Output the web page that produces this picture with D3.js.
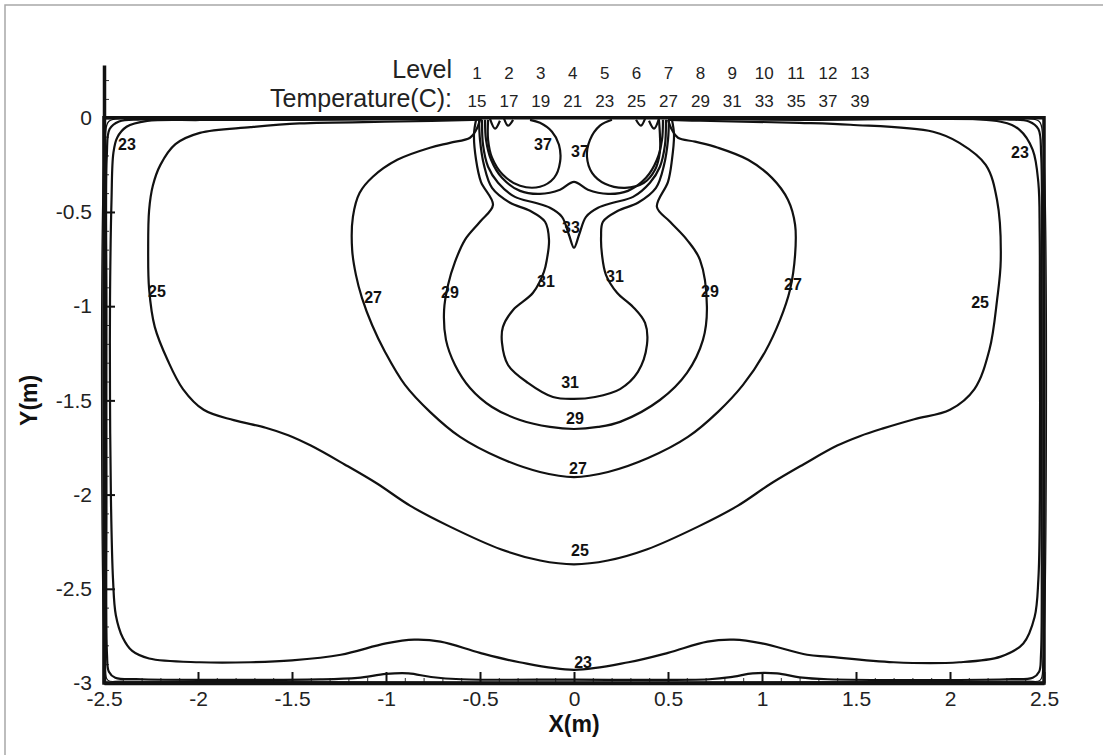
<!DOCTYPE html>
<html>
<head>
<meta charset="utf-8">
<script src="https://cdn.jsdelivr.net/npm/d3@7"></script>
<style>
    body { margin: 0; background: #fff; }
    svg { display: block; font-family: "Liberation Sans", Arial, sans-serif; }
</style>
</head>
<body>
<svg id="chart"></svg>
<script>
// legend table
const levels = [1, 2, 3, 4, 5, 6, 7, 8, 9, 10, 11, 12, 13];
const temps = [15, 17, 19, 21, 23, 25, 27, 29, 31, 33, 35, 37, 39];

// axis ticks (m)
const xTicks = [-2.5, -2, -1.5, -1, -0.5, 0, 0.5, 1, 1.5, 2, 2.5];
const yTicks = [-3, -2.5, -2, -1.5, -1, -0.5, 0];

// isotherms, [x, y] in metres
const c19 = [[-0.5, -0.003], [-2.4, -0.004], [-2.475, -0.02], [-2.493, -0.1], [-2.494, -2.9], [-2.48, -2.985], [-2.4, -2.99],
    [2.4, -2.99], [2.48, -2.985], [2.494, -2.9], [2.493, -0.1], [2.475, -0.02], [2.4, -0.004], [0.5, -0.003]];

const c21 = [[-0.52, -0.006], [-1.5, -0.007], [-2.3, -0.009], [-2.42, -0.02], [-2.47, -0.06], [-2.485, -0.2],
    [-2.487, -1.0], [-2.487, -2.0], [-2.484, -2.85], [-2.474, -2.94], [-2.44, -2.972], [-2.3, -2.98],
    [-1.35, -2.981], [-1.15, -2.973], [-1.0, -2.952], [-0.88, -2.949], [-0.76, -2.968], [-0.6, -2.98],
    [0, -2.982], [0.72, -2.98], [0.85, -2.966], [0.95, -2.949], [1.08, -2.949], [1.2, -2.97], [1.35, -2.98],
    [2.3, -2.98], [2.44, -2.972], [2.474, -2.94], [2.484, -2.85], [2.487, -2.0], [2.487, -1.0], [2.485, -0.2],
    [2.47, -0.06], [2.42, -0.02], [2.3, -0.009], [1.5, -0.007], [0.52, -0.006]];

const c23 = [[-0.5, -0.006], [-1.46, -0.011], [-1.99, -0.012], [-2.27, -0.017], [-2.38, -0.048], [-2.43, -0.106],
    [-2.45, -0.186], [-2.46, -0.435], [-2.468, -0.967], [-2.468, -1.5], [-2.463, -2.03], [-2.452, -2.45],
    [-2.437, -2.64], [-2.40, -2.76], [-2.35, -2.83], [-2.26, -2.87], [-1.99, -2.89], [-1.72, -2.89],
    [-1.50, -2.88], [-1.24, -2.85], [-1.0, -2.79], [-0.85, -2.77], [-0.71, -2.78], [-0.50, -2.84],
    [-0.29, -2.89], [0, -2.93], [0.29, -2.89], [0.50, -2.84], [0.71, -2.78], [0.85, -2.77], [1.0, -2.79],
    [1.24, -2.85], [1.35, -2.86], [1.70, -2.89], [2.05, -2.89], [2.27, -2.86], [2.39, -2.79], [2.45, -2.65],
    [2.47, -2.45], [2.478, -2.03], [2.478, -0.97], [2.477, -0.61], [2.47, -0.345], [2.44, -0.17],
    [2.37, -0.064], [2.27, -0.021], [1.2, -0.011], [0.5, -0.006]];

const c25 = [[-0.49, -0.01], [-0.93, -0.02], [-1.46, -0.03], [-1.72, -0.05], [-1.99, -0.08], [-2.12, -0.14],
    [-2.20, -0.25], [-2.24, -0.36], [-2.26, -0.49], [-2.265, -0.70], [-2.26, -0.91], [-2.23, -1.11],
    [-2.16, -1.29], [-2.08, -1.44], [-1.97, -1.55], [-1.81, -1.605], [-1.64, -1.645], [-1.52, -1.685],
    [-1.40, -1.74], [-1.22, -1.84], [-1.05, -1.94], [-0.87, -2.06], [-0.66, -2.17], [-0.39, -2.29],
    [-0.18, -2.35], [0, -2.37], [0.18, -2.35], [0.39, -2.29], [0.66, -2.17], [0.87, -2.06], [1.05, -1.94],
    [1.22, -1.84], [1.40, -1.74], [1.52, -1.69], [1.64, -1.65], [1.81, -1.60], [2.0, -1.55], [2.13, -1.44],
    [2.21, -1.23], [2.25, -0.97], [2.27, -0.754], [2.25, -0.435], [2.19, -0.25], [2.05, -0.133],
    [1.91, -0.074], [1.47, -0.037], [1.20, -0.027], [0.67, -0.016], [0.51, -0.011]];

const c27 = [[-0.50, -0.011], [-0.52, -0.064], [-0.553, -0.106], [-0.66, -0.133], [-0.766, -0.159],
    [-0.94, -0.223], [-1.07, -0.313], [-1.14, -0.398], [-1.176, -0.526], [-1.18, -0.701], [-1.16, -0.834],
    [-1.128, -0.956], [-1.074, -1.10], [-1.005, -1.243], [-0.899, -1.418], [-0.766, -1.561],
    [-0.606, -1.694], [-0.394, -1.806], [-0.181, -1.88], [0, -1.907], [0.181, -1.88], [0.394, -1.806],
    [0.606, -1.694], [0.766, -1.561], [0.899, -1.418], [1.016, -1.243], [1.096, -1.073], [1.149, -0.913],
    [1.176, -0.728], [1.176, -0.568], [1.138, -0.435], [1.053, -0.319], [0.926, -0.223], [0.766, -0.159],
    [0.644, -0.127], [0.553, -0.106], [0.521, -0.064], [0.50, -0.011]];

const c29 = [[-0.521, -0.011], [-0.532, -0.09], [-0.521, -0.223], [-0.495, -0.34], [-0.431, -0.462],
    [-0.50, -0.552], [-0.58, -0.648], [-0.633, -0.765], [-0.67, -0.887], [-0.691, -1.02], [-0.681, -1.179],
    [-0.633, -1.312], [-0.553, -1.434], [-0.436, -1.535], [-0.287, -1.604], [-0.128, -1.641], [0, -1.652],
    [0.128, -1.641], [0.245, -1.614], [0.457, -1.498], [0.601, -1.354], [0.686, -1.179], [0.707, -1.004],
    [0.67, -0.754], [0.601, -0.648], [0.511, -0.552], [0.441, -0.473], [0.50, -0.34], [0.521, -0.223],
    [0.532, -0.09], [0.521, -0.011]];

const c31 = [[-0.505, -0.011], [-0.50, -0.117], [-0.479, -0.25], [-0.436, -0.372], [-0.34, -0.451],
    [-0.234, -0.494], [-0.154, -0.552], [-0.133, -0.648], [-0.144, -0.75], [-0.16, -0.818], [-0.218, -0.929],
    [-0.324, -1.02], [-0.378, -1.11], [-0.383, -1.195], [-0.351, -1.312], [-0.245, -1.407], [-0.112, -1.482],
    [0, -1.492], [0.112, -1.482], [0.245, -1.44], [0.34, -1.349], [0.388, -1.206], [0.378, -1.089],
    [0.314, -1.004], [0.229, -0.929], [0.17, -0.834], [0.149, -0.728], [0.144, -0.632], [0.154, -0.552],
    [0.234, -0.494], [0.34, -0.451], [0.436, -0.372], [0.479, -0.25], [0.50, -0.117], [0.505, -0.011]];

const c33 = [[-0.489, -0.011], [-0.484, -0.143], [-0.457, -0.26], [-0.404, -0.345], [-0.314, -0.42],
    [-0.207, -0.451], [-0.128, -0.478], [-0.064, -0.526], [-0.027, -0.621], [0, -0.69], [0.027, -0.621],
    [0.064, -0.526], [0.128, -0.478], [0.207, -0.451], [0.314, -0.42], [0.404, -0.345], [0.457, -0.26],
    [0.484, -0.143], [0.489, -0.011]];

const c35 = [[-0.473, -0.011], [-0.468, -0.117], [-0.441, -0.223], [-0.383, -0.319], [-0.287, -0.388],
    [-0.181, -0.404], [-0.074, -0.382], [0, -0.34], [0.074, -0.382], [0.181, -0.404], [0.287, -0.388],
    [0.383, -0.319], [0.441, -0.223], [0.468, -0.117], [0.473, -0.011]];

const c37a = [[-0.457, -0.011], [-0.457, -0.117], [-0.436, -0.212], [-0.378, -0.303], [-0.287, -0.361],
    [-0.181, -0.366], [-0.106, -0.319], [-0.074, -0.234], [-0.08, -0.143], [-0.117, -0.074],
    [-0.181, -0.027], [-0.234, -0.011]];
const c37b = [[0.202, -0.011], [0.138, -0.042], [0.085, -0.117], [0.069, -0.207], [0.096, -0.292],
    [0.165, -0.35], [0.271, -0.372], [0.372, -0.345], [0.431, -0.276], [0.457, -0.181], [0.457, -0.09],
    [0.452, -0.011]];

const c39a = [[-0.447, -0.005], [-0.42, -0.058], [-0.394, -0.016]];
const c39b = [[-0.372, -0.005], [-0.351, -0.042], [-0.324, -0.011]];
const c39c = [[0.33, -0.011], [0.356, -0.042], [0.378, -0.005]];
const c39d = [[0.399, -0.016], [0.426, -0.058], [0.452, -0.005]];

// contour labels [x, y, temperature]
const labelPts = [[-2.378, -0.143, 23], [2.372, -0.186, 23], [0.048, -2.889, 23],
    [-2.218, -0.919, 25], [2.160, -0.982, 25], [0.032, -2.294, 25],
    [-1.069, -0.956, 27], [1.165, -0.887, 27], [0.021, -1.859, 27],
    [-0.660, -0.929, 29], [0.723, -0.919, 29], [0.005, -1.593, 29],
    [-0.149, -0.871, 31], [0.218, -0.844, 31], [-0.021, -1.407, 31],
    [-0.016, -0.584, 33],
    [-0.165, -0.143, 37], [0.032, -0.181, 37]];

const contours = [
    { level: 19, pts: c19 }, { level: 21, pts: c21 }, { level: 23, pts: c23 }, { level: 25, pts: c25 },
    { level: 27, pts: c27 }, { level: 29, pts: c29 }, { level: 31, pts: c31 }, { level: 33, pts: c33 },
    { level: 35, pts: c35 }, { level: 37, pts: c37a }, { level: 37, pts: c37b },
    { level: 39, pts: c39a }, { level: 39, pts: c39b }, { level: 39, pts: c39c }, { level: 39, pts: c39d }
];

const width = 1103, height = 755;
const margin = { top: 65, right: 59, bottom: 72, left: 104 };

const svg = d3.select('#chart')
    .attr('width', width)
    .attr('height', height);

// grey frame of the exported picture
svg.append('path')
    .attr('d', `M5,${height}V5H${width}`)
    .attr('fill', 'none')
    .attr('stroke', '#a8a8a8')
    .attr('stroke-width', 1.5);

const xscale = d3.scaleLinear()
    .domain([-2.5, 2.5])
    .range([margin.left, width - margin.right]);

const yscale = d3.scaleLinear()
    .domain([-3, 0.28])
    .range([height - margin.bottom, margin.top]);

const fmt = d => String(d);

// minor ticks
const xMinor = d3.range(-25, 26).map(d => d / 10).filter(d => !xTicks.includes(d));
const yMinor = d3.range(-30, 3).map(d => d / 10).filter(d => !yTicks.includes(d));

const chart = svg.append('g');

const xaxis_minor = chart.append('g')
    .attr('transform', `translate(0, ${yscale(-3)})`)
    .call(d3.axisBottom(xscale).tickValues(xMinor).tickSize(-5).tickFormat(''));
xaxis_minor.select('.domain').remove();

const yaxis_minor = chart.append('g')
    .attr('transform', `translate(${xscale(-2.5)}, 0)`)
    .call(d3.axisLeft(yscale).tickValues(yMinor).tickSize(-5).tickFormat(''));
yaxis_minor.select('.domain').remove();

chart.selectAll('.tick line').attr('stroke', '#333').attr('stroke-width', 1);

// isotherms
const line = d3.line()
    .x(d => xscale(d[0]))
    .y(d => yscale(d[1]))
    .curve(d3.curveCatmullRom.alpha(0.5));

chart.append('g')
    .selectAll('path')
    .data(contours)
    .join('path')
    .attr('d', d => line(d.pts))
    .attr('fill', 'none')
    .attr('stroke', '#111')
    .attr('stroke-width', d => d.level < 21 ? 1.2 : 2.2)
    .attr('stroke-linejoin', 'round');

// domain walls
chart.append('rect')
    .attr('x', xscale(-2.5))
    .attr('y', yscale(0))
    .attr('width', xscale(2.5) - xscale(-2.5))
    .attr('height', yscale(-3) - yscale(0))
    .attr('fill', 'none')
    .attr('stroke', '#111')
    .attr('stroke-width', 3.5);

const xaxis = d3.axisBottom(xscale)
    .tickValues(xTicks)
    .tickSize(-11)
    .tickSizeOuter(0)
    .tickPadding(8)
    .tickFormat(fmt);

const yaxis = d3.axisLeft(yscale)
    .tickValues(yTicks)
    .tickSize(-11)
    .tickSizeOuter(0)
    .tickPadding(12)
    .tickFormat(fmt);

const xaxis_group = chart.append('g')
    .attr('transform', `translate(0, ${yscale(-3)})`)
    .call(xaxis);

const yaxis_group = chart.append('g')
    .attr('transform', `translate(${xscale(-2.5)}, 0)`)
    .call(yaxis);

[xaxis_group, yaxis_group].forEach(g => {
    g.select('.domain').attr('stroke', '#111').attr('stroke-width', 3.5);
    g.selectAll('.tick line').attr('stroke', '#111').attr('stroke-width', 2);
    g.selectAll('.tick text')
        .attr('fill', '#222')
        .style('font-size', '21px')
        .style('font-family', '"Liberation Sans", Arial, sans-serif');
});

// contour labels
chart.append('g')
    .selectAll('text')
    .data(labelPts)
    .join('text')
    .attr('x', d => xscale(d[0]))
    .attr('y', d => yscale(d[1]))
    .attr('dy', '0.35em')
    .attr('text-anchor', 'middle')
    .style('font-size', '16px')
    .style('font-weight', 'bold')
    .attr('fill', '#111')
    .text(d => d[2]);

// axis titles
svg.append('text')
    .attr('x', xscale(0))
    .attr('y', 732)
    .attr('text-anchor', 'middle')
    .style('font-size', '23px')
    .style('font-weight', 'bold')
    .attr('fill', '#111')
    .text('X(m)');

svg.append('text')
    .attr('transform', `translate(37, ${yscale(-1.5)}) rotate(-90)`)
    .attr('text-anchor', 'middle')
    .style('font-size', '23px')
    .style('font-weight', 'bold')
    .attr('fill', '#111')
    .text('Y(m)');

// level legend
const legend = svg.append('g');
const colx = d3.scalePoint().domain(levels).range([477, 860]);

legend.append('text')
    .attr('x', 452).attr('y', 78)
    .attr('text-anchor', 'end')
    .style('font-size', '25px')
    .attr('fill', '#222')
    .text('Level');

legend.append('text')
    .attr('x', 452).attr('y', 107)
    .attr('text-anchor', 'end')
    .style('font-size', '25px')
    .attr('fill', '#222')
    .text('Temperature(C):');

legend.selectAll('.lv')
    .data(levels)
    .join('text')
    .attr('class', 'lv')
    .attr('x', d => colx(d))
    .attr('y', 79)
    .attr('text-anchor', 'middle')
    .style('font-size', '17px')
    .attr('fill', '#222')
    .text(d => d);

legend.selectAll('.tp')
    .data(temps)
    .join('text')
    .attr('class', 'tp')
    .attr('x', (d, i) => colx(levels[i]))
    .attr('y', 107)
    .attr('text-anchor', 'middle')
    .style('font-size', '17px')
    .attr('fill', '#222')
    .text(d => d);
</script>
</body>
</html>
